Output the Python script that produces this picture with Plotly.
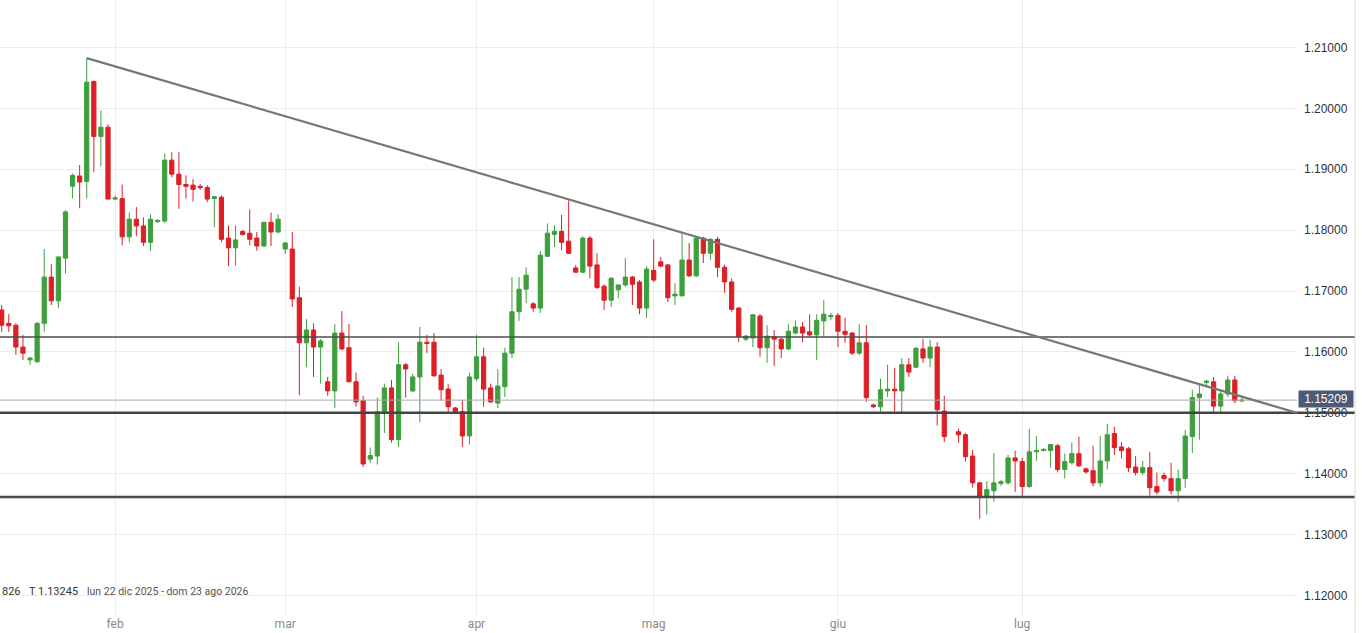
import pandas as pd
import plotly.graph_objects as go

# -------------------------
# DATA  (daily candles)
# -------------------------
first_day = "2026-01-13"
last_day = "2026-08-07"
removed_days = ["2026-04-03", "2026-07-03"]   # holidays, no slot on the axis
missing_days = ["2026-06-19"]                 # no candle, slot kept

opens = [
    # jan
    1.1669, 1.1647, 1.1644, 1.1608, 1.1587, 1.1584, 1.1647, 1.1723, 1.1684, 1.1754, 1.1872, 1.1889, 1.1880, 1.2044, 1.1954, 1.1969,
    # feb
    1.1851, 1.1852, 1.1789, 1.1818, 1.1807, 1.1780, 1.1814, 1.1815, 1.1915, 1.1892, 1.1875, 1.1874, 1.1872, 1.1870, 1.1852, 1.1854,
    1.1787, 1.1771, 1.1798, 1.1795, 1.1787, 1.1774, 1.1813, 1.1797,
    # mar
    1.1769, 1.1769, 1.1689, 1.1615, 1.1636, 1.1608, 1.1551, 1.1536, 1.1631, 1.1607, 1.1551, 1.1520, 1.1424, 1.1429, 1.1500, 1.1541,
    1.1456, 1.1579, 1.1536, 1.1559, 1.1616, 1.1616, 1.1562, 1.1539, 1.1508, 1.1502, 1.1462,
    # apr
    1.1556, 1.1592, 1.1541, 1.1516, 1.1543, 1.1598, 1.1666, 1.1703, 1.1679, 1.1672, 1.1757, 1.1793, 1.1798, 1.1782, 1.1738, 1.1731,
    1.1787, 1.1743, 1.1708, 1.1685, 1.1702, 1.1710, 1.1723, 1.1715, 1.1672,
    # may
    1.1734, 1.1748, 1.1743, 1.1692, 1.1692, 1.1751, 1.1725, 1.1787, 1.1762, 1.1785, 1.1739, 1.1715, 1.1672, 1.1621, 1.1623, 1.1659,
    1.1607, 1.1625, 1.1621, 1.1605, 1.1631, 1.1641, 1.1633, 1.1628, 1.1651, 1.1658,
    # jun
    1.1660, 1.1634, 1.1631, 1.1598, 1.1615, 1.1513, 1.1510, 1.1536, 1.1539, 1.1536, 1.1579, 1.1575, 1.1605, 1.1590, 1.1608, 1.1503,
    1.1469, 1.1464, 1.1429, 1.1385, 1.1361, 1.1372, 1.1384, 1.1385, 1.1426,
    # jul / aug
    1.1420, 1.1379, 1.1436, 1.1438, 1.1438, 1.1446, 1.1407, 1.1418, 1.1433, 1.1408, 1.1405, 1.1385, 1.1421, 1.1466, 1.1444, 1.1441,
    1.1411, 1.1402, 1.1410, 1.1379, 1.1397, 1.1392, 1.1372, 1.1392, 1.1461, 1.1525, 1.1550, 1.1551, 1.1511, 1.1531, 1.1554, 1.15195,
]
highs = [
    1.1677, 1.1662, 1.1647, 1.1628, 1.1592, 1.1649, 1.1769, 1.1744, 1.1757, 1.1833, 1.1893, 1.1907, 1.20826, 1.2046, 1.1997, 1.1974,
    1.1857, 1.1875, 1.1829, 1.1838, 1.1821, 1.1826, 1.1818, 1.1926, 1.1928, 1.1928, 1.1890, 1.1884, 1.1876, 1.1874, 1.1856, 1.1857,
    1.1808, 1.1808, 1.1800, 1.1834, 1.1797, 1.1813, 1.1829, 1.1826,
    1.1780, 1.1797, 1.1707, 1.1654, 1.1647, 1.1621, 1.1559, 1.1646, 1.1667, 1.1646, 1.1566, 1.1528, 1.1443, 1.1525, 1.1548, 1.1554,
    1.1616, 1.1582, 1.1564, 1.1641, 1.1628, 1.1631, 1.1572, 1.1547, 1.1510, 1.1521, 1.1566,
    1.1628, 1.1607, 1.1548, 1.1572, 1.1607, 1.1723, 1.1723, 1.1739, 1.1682, 1.1766, 1.1811, 1.1808, 1.1825, 1.1849, 1.1743, 1.1790,
    1.1790, 1.1762, 1.1711, 1.1723, 1.1711, 1.1754, 1.1725, 1.1718, 1.1741,
    1.1785, 1.1756, 1.1744, 1.1713, 1.1795, 1.1779, 1.1789, 1.1789, 1.1787, 1.1789, 1.1743, 1.1721, 1.1674, 1.1628, 1.1662, 1.1662,
    1.1644, 1.1636, 1.1623, 1.1646, 1.1652, 1.1649, 1.1662, 1.1662, 1.1685, 1.1664,
    1.1664, 1.1656, 1.1633, 1.1646, 1.1644, 1.1515, 1.1556, 1.1579, 1.1574, 1.1590, 1.1590, 1.1608, 1.1621, 1.1620, 1.1616, 1.1528,
    1.1474, 1.1467, 1.1439, 1.1385, 1.1388, 1.1434, 1.1390, 1.1431, 1.1438,
    1.1426, 1.1474, 1.1462, 1.1442, 1.1449, 1.1449, 1.1433, 1.1451, 1.1461, 1.1410, 1.1446, 1.1462, 1.1482, 1.1477, 1.1452, 1.1444,
    1.1429, 1.1421, 1.1436, 1.1402, 1.1402, 1.1418, 1.1407, 1.1472, 1.1538, 1.1546, 1.1554, 1.1559, 1.1538, 1.1561, 1.1561, 1.1526,
]
lows = [
    1.1633, 1.1633, 1.1595, 1.1587, 1.1579, 1.1582, 1.1633, 1.1677, 1.1672, 1.1729, 1.1852, 1.1836, 1.1852, 1.1895, 1.1905, 1.1851,
    1.1849, 1.1775, 1.1780, 1.1790, 1.1774, 1.1766, 1.1812, 1.1812, 1.1887, 1.1835, 1.1852, 1.1847, 1.1866, 1.1846, 1.1805, 1.1780,
    1.1741, 1.1742, 1.1791, 1.1775, 1.1766, 1.1772, 1.1774, 1.1795,
    1.1761, 1.1674, 1.1529, 1.1575, 1.1559, 1.1548, 1.1528, 1.1508, 1.1603, 1.1551, 1.1510, 1.1411, 1.1418, 1.1415, 1.1467, 1.1451,
    1.1444, 1.1525, 1.1534, 1.1485, 1.1598, 1.1559, 1.1520, 1.1502, 1.1500, 1.1444, 1.1448,
    1.1552, 1.1510, 1.1516, 1.1508, 1.1526, 1.1590, 1.1651, 1.1680, 1.1666, 1.1664, 1.1756, 1.1772, 1.1767, 1.1761, 1.1731, 1.1729,
    1.1721, 1.1703, 1.1669, 1.1674, 1.1688, 1.1707, 1.1677, 1.1662, 1.1656,
    1.1715, 1.1739, 1.1682, 1.1677, 1.1692, 1.1723, 1.1723, 1.1746, 1.1751, 1.1723, 1.1697, 1.1666, 1.1616, 1.1618, 1.1608, 1.1592,
    1.1582, 1.1577, 1.1590, 1.1603, 1.1629, 1.1616, 1.1625, 1.1587, 1.1625, 1.1652,
    1.1608, 1.1615, 1.1595, 1.1595, 1.1518, 1.1508, 1.1502, 1.1526, 1.1502, 1.1500, 1.1559, 1.1574, 1.1582, 1.1575, 1.1479, 1.1452,
    1.1451, 1.1420, 1.1377, 1.1326, 1.1333, 1.1354, 1.1380, 1.1382, 1.1370,
    1.1362, 1.1377, 1.1421, 1.1437, 1.1410, 1.1402, 1.1392, 1.1415, 1.1411, 1.1400, 1.1379, 1.1379, 1.1407, 1.1431, 1.1425, 1.1403,
    1.1397, 1.1398, 1.1364, 1.1366, 1.1387, 1.1366, 1.1354, 1.1377, 1.1434, 1.1456, 1.1544, 1.1502, 1.1502, 1.1526, 1.1516, 1.1518,
]
closes = [
    1.1644, 1.1643, 1.1608, 1.1598, 1.1590, 1.1647, 1.1723, 1.1684, 1.1756, 1.1830, 1.1890, 1.1879, 1.2043, 1.1954, 1.1969, 1.1851,
    1.1853, 1.1789, 1.1818, 1.1807, 1.1780, 1.1818, 1.1816, 1.1915, 1.1892, 1.1875, 1.1872, 1.1867, 1.1870, 1.1851, 1.1855, 1.1785,
    1.1771, 1.1784, 1.1793, 1.1785, 1.1774, 1.1813, 1.1797, 1.1818,
    1.1779, 1.1687, 1.1615, 1.1636, 1.1608, 1.1618, 1.1536, 1.1631, 1.1605, 1.1551, 1.1518, 1.1416, 1.1430, 1.1502, 1.1541, 1.1456,
    1.1579, 1.1572, 1.1559, 1.1616, 1.1614, 1.1561, 1.1538, 1.1510, 1.1502, 1.1462, 1.1559,
    1.1592, 1.1539, 1.1518, 1.1544, 1.1598, 1.1666, 1.1703, 1.1726, 1.1672, 1.1759, 1.1795, 1.1798, 1.1780, 1.1762, 1.1731, 1.1787,
    1.1741, 1.1706, 1.1685, 1.1721, 1.1710, 1.1723, 1.1711, 1.1672, 1.1736,
    1.1718, 1.1741, 1.1689, 1.1695, 1.1751, 1.1725, 1.1787, 1.1762, 1.1785, 1.1739, 1.1715, 1.1670, 1.1625, 1.1626, 1.1661, 1.1607,
    1.1626, 1.1621, 1.1605, 1.1634, 1.1641, 1.1631, 1.1628, 1.1652, 1.1662, 1.1660,
    1.1634, 1.1629, 1.1598, 1.1615, 1.1525, 1.1510, 1.1538, 1.1539, 1.1536, 1.1579, 1.1567, 1.1606, 1.1590, 1.1608, 1.1505, 1.1461,
    1.1464, 1.1428, 1.1385, 1.1361, 1.1374, 1.1385, 1.1387, 1.1426, 1.1421,
    1.1379, 1.1436, 1.1438, 1.1440, 1.1448, 1.1407, 1.1420, 1.1433, 1.1413, 1.1403, 1.1385, 1.1421, 1.1464, 1.1443, 1.1438, 1.1410,
    1.1402, 1.1410, 1.1377, 1.1370, 1.1392, 1.1372, 1.1392, 1.1462, 1.1525, 1.1531, 1.1552, 1.1511, 1.1531, 1.1554, 1.1520, 1.15209,
]

# drawn levels
resistance = 1.16246
support_1 = 1.15000
support_2 = 1.13618
last_price = 1.15209
trend_start = ("2026-01-27", 1.20826)
trend_end = ("2026-08-16 18:30", 1.15000)

month_ticks = ["2026-02-01", "2026-03-01", "2026-04-01", "2026-05-01", "2026-06-01", "2026-07-01"]
month_labels = ["feb", "mar", "apr", "mag", "giu", "lug"]

# -------------------------
# DATES
# -------------------------
skip = set(removed_days + missing_days)
dates = [d for d in pd.date_range(first_day, last_day, freq="D")
         if d.weekday() != 5 and d.strftime("%Y-%m-%d") not in skip]

GREEN = "#3e9f3e"
RED = "#dd1f26"

fig = go.Figure(go.Candlestick(
    x=dates, open=opens, high=highs, low=lows, close=closes,
    increasing=dict(line=dict(color=GREEN, width=1), fillcolor=GREEN),
    decreasing=dict(line=dict(color=RED, width=1), fillcolor=RED),
    whiskerwidth=0,
    hoverinfo="skip",
))

PLOT_W = 1297
x_edge = 1355 / PLOT_W

# horizontal levels
for level, width, color in [(resistance, 1.5, "#4d4d4d"), (support_1, 2.5, "#444444"), (support_2, 2.5, "#4a4a4a")]:
    fig.add_shape(type="line", xref="paper", yref="y", x0=0, x1=x_edge, y0=level, y1=level,
                  line=dict(color=color, width=width))

# last price line
fig.add_shape(type="line", xref="paper", yref="y", x0=0, x1=1, y0=last_price, y1=last_price,
              line=dict(color="#a8a8a8", width=1))

# trendline
fig.add_shape(type="line", xref="x", yref="y",
              x0=trend_start[0], y0=trend_start[1], x1=trend_end[0], y1=trend_end[1],
              line=dict(color="#777777", width=2.2))

# right border
fig.add_shape(type="line", xref="paper", yref="paper", x0=x_edge, x1=x_edge, y0=-0.03, y1=1,
              line=dict(color="#dddddd", width=1))

# price tag
fig.add_annotation(xref="paper", yref="y", x=1, y=last_price, xanchor="left", yanchor="middle",
                   xshift=1, yshift=1.5, text="1.15209", showarrow=False,
                   bgcolor="#4a5a77", width=52, height=14, borderpad=1,
                   font=dict(family="Liberation Sans", size=12, color="white"))

# info text bottom-left
info_y = (615 - 591) / 615
fig.add_annotation(xref="paper", yref="paper", x=0, y=info_y, xanchor="left", yanchor="middle",
                   text="826", showarrow=False, font=dict(family="Roboto", size=11, color="#333333"))
fig.add_annotation(xref="paper", yref="paper", x=27 / PLOT_W, y=info_y, xanchor="left", yanchor="middle",
                   text="T 1.13245", showarrow=False, font=dict(family="Roboto", size=11, color="#333333"))
fig.add_annotation(xref="paper", yref="paper", x=85 / PLOT_W, y=info_y, xanchor="left", yanchor="middle",
                   text="lun 22 dic 2025 - dom 23 ago 2026", showarrow=False,
                   font=dict(family="Roboto", size=10.5, color="#555555"))

fig.update_layout(
    width=1362, height=633,
    margin=dict(l=0, r=1362 - PLOT_W, t=0, b=18),
    plot_bgcolor="white", paper_bgcolor="white",
    showlegend=False,
    dragmode=False,
    boxgap=0.15,
)

fig.update_xaxes(
    type="date",
    range=["2026-01-12 18:15", trend_end[0]],
    rangebreaks=[dict(bounds=["sat", "sun"]), dict(values=removed_days)],
    rangeslider_visible=False,
    tickvals=month_ticks, ticktext=month_labels,
    showgrid=True, gridcolor="#ececec", gridwidth=1,
    zeroline=False, showline=False, ticks="",
    tickfont=dict(family="Roboto", size=12, color="#8a8a8a"),
    automargin=False,
)

fig.update_yaxes(
    side="right",
    range=[1.1168, 1.2178],
    tick0=1.12, dtick=0.01, tickformat=".5f",
    showgrid=True, gridcolor="#ececec", gridwidth=1,
    zeroline=False, showline=False, ticks="",
    ticklabelstandoff=6,
    tickfont=dict(family="Liberation Sans", size=12, color="#333333"),
    automargin=False,
)

fig.write_html("out.html", config={"displayModeBar": False},
               post_script="document.body.style.margin='0';")
